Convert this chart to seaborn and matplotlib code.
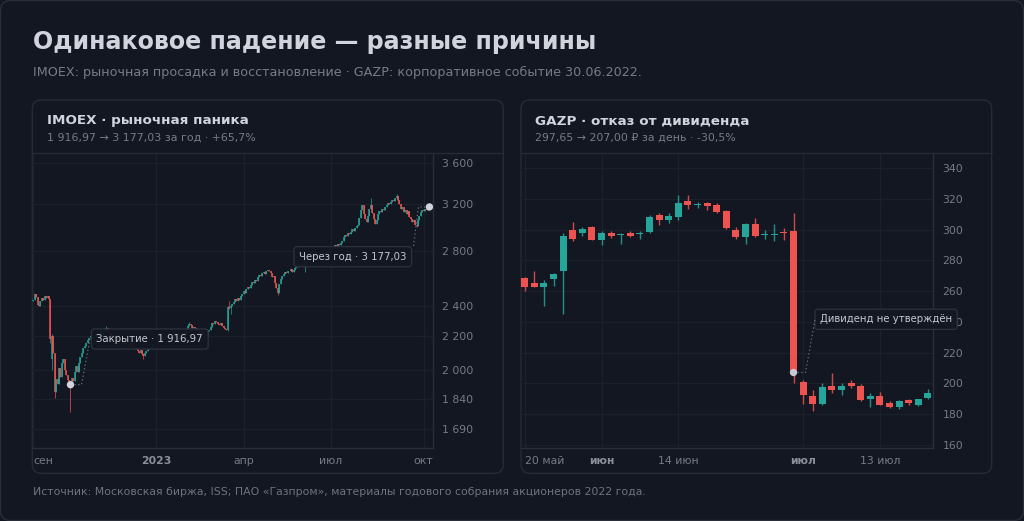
import numpy as np
import seaborn as sns
import matplotlib
matplotlib.use("Agg")
import matplotlib.pyplot as plt
from matplotlib.patches import FancyBboxPatch
from matplotlib.lines import Line2D
from matplotlib.transforms import IdentityTransform

W, H = 1024, 521

# IMOEX, daily closes by trading day, 01.09.2022 .. 06.10.2023
imoex_close = [
    2440, 2478, 2462, 2405, 2395, 2430, 2452, 2440, 2470, 2455, 2465, 2448,
    2180, 2200, 2100, 1880,
    1950, 1920, 2010, 1960, 2040, 2060, 2000, 1970, 1940, 1925,
    1916.97,
    1955, 1935, 1985, 2020, 1990, 2040, 2075, 2095, 2125, 2140, 2160, 2175,
    2190, 2200, 2185, 2210, 2205, 2220, 2195, 2215, 2230, 2210, 2225, 2240,
    2250,
    2235, 2220, 2200, 2210, 2190, 2205, 2185, 2170, 2180, 2195, 2175, 2160, 2170, 2150,
    2155, 2140, 2160, 2145, 2130, 2120, 2135, 2110, 2100, 2115, 2090, 2080, 2100, 2110, 2120,
    2130, 2125, 2140, 2150, 2155,
    2160, 2170, 2180, 2165, 2175, 2190, 2185, 2200, 2195, 2210, 2205, 2215, 2200, 2190,
    2205, 2220, 2210, 2215, 2225, 2218, 2210,
    2240, 2265, 2280, 2270, 2255, 2260, 2250, 2245,
    2235, 2220, 2210, 2225, 2215, 2200, 2210, 2230, 2240,
    2260, 2285, 2275, 2295, 2290, 2280, 2270, 2285, 2265, 2255, 2245, 2240,
    2390, 2385, 2400,
    2410, 2425, 2445, 2430, 2455, 2440, 2465,
    2480, 2500, 2490, 2515, 2530, 2520,
    2545, 2565, 2560, 2580, 2575,
    2600, 2615, 2610, 2630,
    2640, 2625, 2645, 2655, 2650,
    2630, 2600, 2610, 2560, 2520, 2490,
    2550, 2590, 2610,
    2625, 2640, 2630, 2650, 2645, 2660, 2640, 2655, 2670,
    2680, 2690, 2700, 2685, 2705, 2695, 2720,
    2725, 2740, 2735, 2755, 2760, 2745, 2770, 2780, 2765, 2775, 2790, 2785, 2770,
    2780, 2795, 2800, 2790, 2810, 2820, 2835, 2850,
    2845, 2860, 2850, 2870, 2880,
    2920, 2935, 2925, 2950, 2940,
    2960, 2985, 2970, 2995, 3010,
    3020, 3080, 3150, 3190, 3110, 3070, 3040, 3100, 3160, 3190, 3120, 3070, 3030,
    3060, 3110, 3140, 3130, 3155, 3150, 3175, 3190, 3210, 3200, 3225, 3240, 3235,
    3260, 3280, 3240, 3200, 3160, 3180, 3130, 3150, 3110, 3140, 3090, 3070, 3040,
    3060, 3020, 3010, 3060, 3100, 3130, 3150, 3140, 3160, 3150, 3170, 3177.03,
]
imoex_first_open = 2430
imoex_gap_open = {13: 2060, 136: 2240}
# notable shadows: index -> (high, low)
imoex_wicks = {
    12: (2445, 2160), 13: (2215, 2000), 15: (2090, 1845), 26: (1930, 1772),
    51: (2265, 2230), 77: (2095, 2060), 109: (2292, 2262), 136: (2395, 2235),
    137: (2430, 2380), 138: (2405, 2345), 171: (2525, 2475), 190: (2725, 2640),
    236: (3262, 3170), 254: (3292, 3240), 268: (3030, 2998),
}
imoex_ticks = [0, 86, 147, 208, 273]
imoex_tick_labels = ["сен", "2023", "апр", "июл", "окт"]
imoex_tick_bold = [False, True, False, False, False]
imoex_yticks = [1690, 1840, 2000, 2200, 2400, 2800, 3200, 3600]

# GAZP, daily OHLC, 20.05.2022 .. 20.07.2022
gazp_open = [268.4, 265.1, 263.0, 268.2, 273.2, 299.9, 298.1, 302.0, 293.4, 297.7,
             296.4, 298.1, 297.3, 298.6, 309.8, 306.4, 308.5, 318.5, 316.1, 317.2,
             315.9, 312.0, 299.8, 295.5, 303.7, 296.3, 296.8, 297.9, 299.2, 201.1,
             192.0, 186.3, 198.3, 195.7, 200.4, 198.5, 189.4, 191.5, 187.0, 184.8,
             189.2, 186.1, 190.2]
gazp_high = [269.0, 273.2, 267.3, 271.9, 298.1, 305.1, 302.0, 302.5, 299.4, 299.4,
             297.7, 299.0, 299.2, 309.4, 310.7, 310.7, 322.6, 322.6, 318.3, 318.1,
             317.7, 312.9, 301.6, 304.2, 307.4, 299.8, 303.7, 300.9, 310.7, 202.2,
             195.7, 200.4, 206.5, 200.4, 202.2, 199.4, 193.9, 194.1, 188.3, 189.2,
             190.0, 189.8, 196.1]
gazp_low = [260.4, 262.5, 250.4, 263.4, 245.2, 292.9, 296.0, 293.3, 289.9, 294.7,
            290.7, 295.5, 294.2, 297.9, 302.9, 304.6, 306.4, 313.7, 314.0, 312.9,
            310.7, 300.3, 294.0, 290.9, 295.0, 294.0, 292.9, 293.3, 200.0, 186.3,
            181.6, 185.9, 193.5, 192.4, 196.8, 188.5, 184.4, 185.5, 183.7, 183.3,
            186.0, 185.2, 189.8]
gazp_close = [263.0, 263.0, 265.6, 271.4, 295.7, 294.0, 300.7, 293.6, 297.7, 296.0,
              297.3, 296.2, 298.1, 308.1, 306.4, 309.2, 317.2, 315.9, 317.0, 315.5,
              311.8, 301.4, 295.5, 303.7, 295.9, 296.9, 297.4, 297.65, 207.0, 192.4,
              186.3, 197.6, 195.7, 198.3, 198.3, 189.2, 191.5, 186.1, 184.4, 188.1,
              187.0, 189.8, 193.9]
gazp_ticks = [0, 8, 16, 29, 37]
gazp_tick_labels = ["20 май", "июн", "14 июн", "июл", "13 июл"]
gazp_tick_bold = [False, True, False, True, False]
gazp_yticks = [160, 180, 200, 220, 240, 260, 280, 300, 320, 340]

BG = "#131722"
CARD_EDGE = "#262b36"
GRID = "#1c202b"
SPINE = "#2a2e39"
TXT = "#d1d4dc"
MUTED = "#787b86"
UP = "#26a69a"
DOWN = "#ef5350"

sns.set_theme(style="dark", rc={
    "figure.facecolor": BG, "axes.facecolor": BG, "savefig.facecolor": BG,
    "text.color": TXT, "axes.edgecolor": SPINE,
})
plt.rcParams["font.family"] = ["DejaVu Sans", "Noto Sans"]

fig = plt.figure(figsize=(W / 100, H / 100), dpi=100)


def fx(x):
    return x / W


def fy(y):
    return 1 - y / H


def px_box(x0, y0, x1, y1, r, face, edge):
    p = FancyBboxPatch((x0, H - y1), x1 - x0, y1 - y0,
                       boxstyle=f"round,pad=0,rounding_size={r}",
                       transform=IdentityTransform(), facecolor=face,
                       edgecolor=edge, lw=1.0, zorder=0)
    fig.add_artist(p)


# outer frame and cards
px_box(0.5, 0.5, W - 0.5, H - 0.5, 10, BG, "#2a2e39")
px_box(32.3, 100, 503.3, 473.3, 9, BG, CARD_EDGE)
px_box(521, 100, 991.7, 473.3, 9, BG, CARD_EDGE)
for a, b in [(32.3, 503.3), (521, 991.7)]:
    fig.add_artist(Line2D([fx(a), fx(b)], [fy(153.3), fy(153.3)],
                          color=CARD_EDGE, lw=1.0, transform=fig.transFigure))

fig.text(fx(33), fy(42), "Одинаковое падение — разные причины", fontsize=17.1,
         fontweight="bold", color=TXT, va="center", ha="left")
fig.text(fx(33), fy(72), "IMOEX: рыночная просадка и восстановление · GAZP: корпоративное событие 30.06.2022.",
         fontsize=9.2, color=MUTED, va="center", ha="left")
fig.text(fx(33), fy(492), "Источник: Московская биржа, ISS; ПАО «Газпром», материалы годового собрания акционеров 2022 года.",
         fontsize=7.8, color="#6f737e", va="center", ha="left")

fig.text(fx(47), fy(120.7), "IMOEX · рыночная паника", fontsize=9.7,
         fontweight="bold", color=TXT, va="center", ha="left")
fig.text(fx(47), fy(137.8), "1 916,97 → 3 177,03 за год · +65,7%", fontsize=7.9,
         color=MUTED, va="center", ha="left")
fig.text(fx(535), fy(120.7), "GAZP · отказ от дивиденда", fontsize=9.7,
         fontweight="bold", color=TXT, va="center", ha="left")
fig.text(fx(535), fy(137.8), "297,65 → 207,00 ₽ за день · -30,5%", fontsize=7.9,
         color=MUTED, va="center", ha="left")

ax1 = fig.add_axes([fx(32.3), fy(448.3), fx(433.3 - 32.3), (448.3 - 153.3) / H])
ax2 = fig.add_axes([fx(521), fy(448.3), fx(932.7 - 521), (448.3 - 153.3) / H])


def style_axes(ax, ticks, labels, bold, pad_y):
    ax.set_facecolor("none")
    for s in ["top", "left"]:
        ax.spines[s].set_visible(False)
    for s in ["right", "bottom"]:
        ax.spines[s].set_color(SPINE)
        ax.spines[s].set_linewidth(1.0)
    ax.yaxis.tick_right()
    ax.grid(True, color=GRID, lw=0.9)
    ax.set_axisbelow(True)
    ax.tick_params(axis="both", length=0, labelsize=7.8, labelcolor=MUTED)
    ax.tick_params(axis="y", pad=pad_y)
    ax.tick_params(axis="x", pad=5.5)
    ax.set_xticks(ticks)
    ax.set_xticklabels(labels)
    for i, (lbl, b) in enumerate(zip(ax.get_xticklabels(), bold)):
        if b:
            lbl.set_fontweight("bold")
            lbl.set_color("#8b8f9a")
        if i == 0:
            lbl.set_ha("left")


# ---- IMOEX candles
n1 = len(imoex_close)
x1 = np.arange(n1)
o1 = [imoex_first_open] + imoex_close[:-1]
for k, v in imoex_gap_open.items():
    o1[k] = v
c1 = np.array(imoex_close, dtype=float)
o1 = np.array(o1, dtype=float)
top1 = np.maximum(o1, c1)
bot1 = np.minimum(o1, c1)
hi1 = top1.copy()
lo1 = bot1.copy()
for k, (h, l) in imoex_wicks.items():
    hi1[k], lo1[k] = h, l
col1 = np.where(c1 >= o1, UP, DOWN)
top_draw = np.maximum(top1, bot1 * 1.002)
ax1.vlines(x1, lo1, hi1, colors=col1, lw=0.55, alpha=0.9, zorder=2)
ax1.vlines(x1, bot1, top_draw, colors=col1, lw=1.1, zorder=3)
ax1.set_yscale("log")
ax1.set_ylim(1600, 3700)
ax1.set_xlim(-0.7, 279.7)
ax1.set_yticks(imoex_yticks)
ax1.set_yticklabels([f"{v:,}".replace(",", " ") for v in imoex_yticks])
ax1.yaxis.set_minor_locator(matplotlib.ticker.NullLocator())
style_axes(ax1, imoex_ticks, imoex_tick_labels, imoex_tick_bold, 6.3)

# ---- GAZP candles
n2 = len(gazp_close)
x2 = np.arange(n2)
o2 = np.array(gazp_open)
c2 = np.array(gazp_close)
col2 = np.where(c2 >= o2, UP, DOWN)
ax2.vlines(x2, gazp_low, gazp_high, colors=col2, lw=1.0, alpha=0.85, zorder=2)
ax2.bar(x2, np.maximum(np.abs(c2 - o2), 0.6), bottom=np.minimum(o2, c2),
        width=0.74, color=col2, zorder=3, linewidth=0)
ax2.set_ylim(157.6, 349.8)
ax2.set_xlim(-0.39, 42.5)
ax2.set_yticks(gazp_yticks)
style_axes(ax2, gazp_ticks, gazp_tick_labels, gazp_tick_bold, 7.0)

# ---- markers
sns.scatterplot(x=[26, n1 - 1], y=[imoex_close[26], imoex_close[-1]], ax=ax1,
                color="#d1d4dc", s=28, edgecolor="none", zorder=6, legend=False)
sns.scatterplot(x=[28], y=[gazp_close[28]], ax=ax2,
                color="#c8cbd3", s=28, edgecolor="none", zorder=6, legend=False)

box = dict(boxstyle="round,pad=0.5,rounding_size=0.3", facecolor=BG, alpha=0.95,
           edgecolor="#2e3340", lw=0.9)


def note(ax, xy, text, xytext, ha, end, step):
    ax.annotate(text, xy=xytext, xycoords="figure pixels",
                ha=ha, va="center", fontsize=7.3, color="#c5c8d0", bbox=box,
                zorder=8, annotation_clip=False)
    # dotted leader: short horizontal run from the marker, then to the box edge
    dx, dy = ax.transData.transform(xy)
    ex, ey = end[0], H - end[1]
    sx = dx + (4 if step > 0 else -4)
    fig.add_artist(Line2D([sx, dx + step, ex], [dy, dy, ey], color="#6b7080",
                          lw=0.9, linestyle=(0, (1, 2)),
                          transform=IdentityTransform(), zorder=1))


note(ax1, (26, imoex_close[26]), "Закрытие · 1 916,97", (96.5, H - 339), "left",
     (90, 339), 11)
note(ax1, (n1 - 1, imoex_close[-1]), "Через год · 3 177,03", (406.5, H - 256.7), "right",
     (413.4, 246.7), -11)
note(ax2, (28, gazp_close[28]), "Дивиденд не утверждён", (820, H - 319.3), "left",
     (815, 319.3), 12)

fig.savefig("out.png", dpi=100)
